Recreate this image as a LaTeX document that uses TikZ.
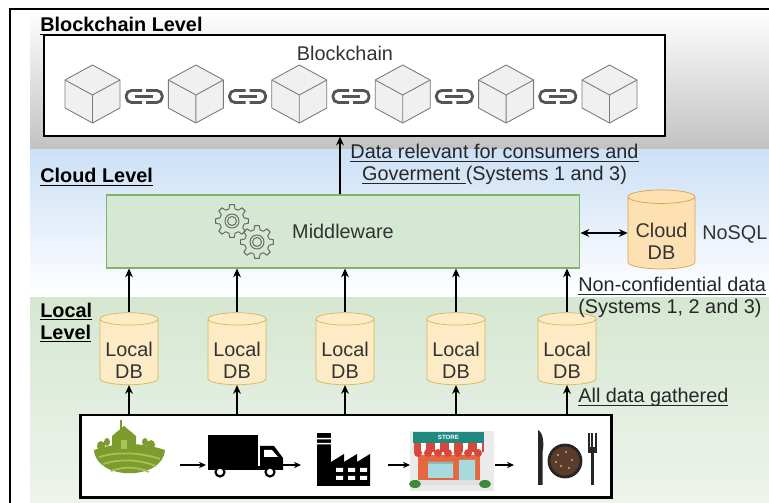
\documentclass[tikz,border=0pt]{standalone}
\usepackage{fontspec}
\setmainfont{Liberation Sans}
\usepackage{tikz}
\usetikzlibrary{positioning,shapes.geometric,arrows.meta}

\definecolor{txt}{HTML}{333333}
\definecolor{mwfill}{HTML}{D5E8D4}
\definecolor{mwline}{HTML}{82B366}
\definecolor{dbfill}{HTML}{FDEBC6}
\definecolor{dbline}{HTML}{D6B656}
\definecolor{cloudfill}{HTML}{FDE1B2}
\definecolor{cloudline}{HTML}{D9A24A}
\definecolor{cloudtop}{HTML}{CCE0F6}
\definecolor{localtop}{HTML}{D5E7D1}
\definecolor{localbot}{HTML}{EEF4EC}
\definecolor{cubefill}{HTML}{F0F0F0}
\definecolor{cubeline}{HTML}{7A7A7A}
\definecolor{linkgray}{HTML}{555555}
\definecolor{geargray}{HTML}{666666}
\definecolor{farmgreen}{HTML}{7E9B2E}
\definecolor{farmlight}{HTML}{A9C257}
\definecolor{storeteal}{HTML}{1F8B80}
\definecolor{storered}{HTML}{D9473A}
\definecolor{storewall}{HTML}{E4683F}
\definecolor{storeglass}{HTML}{A6DADF}
\definecolor{storebush}{HTML}{3F8A3A}
\definecolor{platebrown}{HTML}{5B3B2B}

% underline at a fixed depth, also under descenders
\newcommand{\uln}[1]{\setbox0=\hbox{#1}\rlap{\rule[-1.8pt]{\wd0}{0.55pt}}\box0}

\begin{document}
\begin{tikzpicture}[x=0.02cm, y=-0.02cm, >={Stealth[length=5pt,width=4.4pt]},
  every node/.style={font=\fontsize{11.3}{12.5}\selectfont, text=txt},
  level/.style={font=\fontsize{11.3}{12.5}\selectfont\bfseries, text=black, inner sep=0pt},
  note/.style={text=black!85, inner sep=0pt},
  flow/.style={->, line width=0.8pt},
  localdb/.style={cylinder, shape border rotate=90, aspect=0.26, draw=dbline, fill=dbfill,
    minimum width=1.16cm, minimum height=1.44cm, inner sep=0pt, align=center,
    execute at begin node={\rule{0pt}{30pt}}},
  cube/.style={draw=cubeline, fill=cubefill, line width=0.5pt, line join=round},
  link/.style={draw=linkgray, line width=1.6pt, rounded corners=3pt},
  gear/.style={draw=geargray, line width=0.55pt, line join=round},
  step arrow/.style={-{Stealth[length=4pt,width=3.6pt]}, line width=0.6pt}]
\clip (0,0) rectangle (769,503);

% level bands and frame
\shade[top color=white, bottom color=black!24] (30,10) rectangle (769,150);
\shade[top color=cloudtop, bottom color=white] (30,150) rectangle (769,298);
\shade[top color=localtop, bottom color=localbot] (30,298) rectangle (769,503);
\draw[line width=1.1pt] (10,503) -- (10,9) -- (769,9);

\node[level, anchor=base west] (blevel) at (40,32) {\uln{Blockchain Level}};
\node[level, anchor=base west] (clevel) at (40,183) {\uln{Cloud Level}};
\node[level, anchor=north west, align=left] (llevel) at (40,302.5) {\uln{Local}\\\uln{Level}};

% blockchain
\node[draw, fill=white, line width=0.7pt, minimum width=12.42cm, minimum height=2.02cm] (chain) at (354.5,85.5) {};
\node[anchor=base] (chaintitle) at (345,61) {Blockchain};
\foreach \i in {0,...,5} {
  \pgfmathsetmacro\cx{92.5+103.4*\i}
  \filldraw[cube] (\cx,65) -- (\cx+27.5,80) -- (\cx+27.5,108) -- (\cx,123) -- (\cx-27.5,108) -- (\cx-27.5,80) -- cycle;
  \draw[cube] (\cx-27.5,80) -- (\cx,95) -- (\cx+27.5,80) (\cx,95) -- (\cx,123);
}
\foreach \i in {0,...,4} {
  \pgfmathsetmacro\lx{144.2+103.4*\i}
  \draw[link] (\lx-2,90.5) -- (\lx-18,90.5) -- (\lx-18,102.5) -- (\lx-2,102.5);
  \draw[link] (\lx+2,90.5) -- (\lx+18,90.5) -- (\lx+18,102.5) -- (\lx+2,102.5);
  \draw[linkgray, line width=1.6pt] (\lx-9,96.5) -- (\lx+9,96.5);
}

% cloud
\node[draw=mwline, fill=mwfill, line width=0.6pt, minimum width=9.48cm, minimum height=1.46cm] (mw) at (343,231.5) {Middleware};
\foreach \gx/\gy in {232/221, 257/242} {
  \begin{scope}[shift={(\gx,\gy)}]
    \draw[gear] (-14:12.5) \foreach \a in {0,45,...,315} { -- (\a-14:12.5) -- (\a-8:16.5) -- (\a+8:16.5) -- (\a+14:12.5) } -- cycle;
    \draw[gear] (0,0) circle (7) (0,0) circle (4.5);
  \end{scope}
}
\node[localdb, fill=cloudfill, draw=cloudline, minimum width=1.34cm, minimum height=1.58cm] (cloud) at (661.5,233) {Cloud\\DB};
\node[anchor=base west, inner sep=0pt] (nosql) at (702,240) {NoSQL};
\draw[<->, line width=0.8pt] (cloud.west -| mw.east) -- (cloud.west);

\draw[flow] (mw.north -| 340,0) -- (chain.south -| 340,0);
\node[note, anchor=north, align=center] (uplabel) at (494.5,144)
  {\uln{Data relevant for consumers and}\\\uln{Goverment\ }(Systems 1 and 3)};

% local databases
\foreach \n/\px in {1/129, 2/237, 3/345, 4/456, 5/567} {
  \node[localdb] (db\n) at (\px,352) {Local\\DB};
  \draw[flow] (db\n.north) -- (mw.south -| db\n.north);
}
\node[note, anchor=north west, align=left] (midlabel) at (578,277)
  {\uln{Non-confidential data}\\(Systems 1, 2 and 3)};

% supply chain
\node[draw, fill=white, line width=1.7pt, minimum width=10.64cm, minimum height=1.66cm] (supply) at (346,456.5) {};
\foreach \n in {1,...,5}
  \draw[flow] (supply.north -| db\n.south) -- (db\n.south);
\node[note, anchor=base west] (lowlabel) at (578,403) {\uln{All data gathered}};

% farm
\fill[farmgreen] (94,450) .. controls (96,481) and (163,481) .. (165,450) .. controls (140,442) and (118,442) .. cycle;
\draw[farmlight, line width=1pt] (99,457) .. controls (120,451) and (142,453) .. (160,459);
\draw[farmlight, line width=1pt] (103,464) .. controls (122,458) and (140,460) .. (156,466);
\draw[farmlight, line width=1pt] (111,471) .. controls (125,466) and (138,467) .. (149,472);
\fill[farmgreen] (112,449) -- (112,436) -- (124,426) -- (136,436) -- (136,449) -- cycle;
\fill[farmlight] (121,440) rectangle (127,449);
\draw[farmgreen, line width=1pt] (121,420) -- (121,430);
\fill[farmgreen] (101,446) ellipse (4 and 5) (107,442) ellipse (3 and 4) (151,445) ellipse (4 and 5) (145,442) ellipse (3 and 4);

% truck
\fill (208,435) rectangle (258,467);
\fill (260,446) -- (274,446) -- (283,458) -- (283,470) -- (260,470) -- cycle;
\fill[white] (264,450) -- (272,450) -- (278,457) -- (264,457) -- cycle;
\fill (208,466) rectangle (283,470);
\filldraw[fill=white, line width=1.2pt] (220,472) circle (4.5) (270,472) circle (4.5);

% factory
\fill (317,433) rectangle (331,486);
\fill[white] (317,438) rectangle (331,439.5) (317,443) rectangle (331,444.5);
\fill (331,486) -- (331,462) -- (344,454) -- (344,462) -- (357,454) -- (357,462) -- (370,454) -- (370,486) -- cycle;
\foreach \wx in {336,348,360}
  \fill[white] (\wx,468) rectangle ++(7,4) (\wx,476) rectangle ++(7,4);

% store
\fill[black!8] (410,431) rectangle (494,491);
\fill[storewall] (418,455) rectangle (480,481);
\fill[storeglass] (428,462) rectangle (453,478) (459,460) rectangle (475,481);
\fill[black!15!storeglass] (428,462) rectangle (453,464);
\fill[storered] (414,443) rectangle (484,452);
\foreach \sx in {421,435,449,463,477}
  \fill[white] (\sx,443) rectangle ++(5,9);
\foreach \sx in {418,428,...,478}
  \fill[storered] (\sx,453) circle (4);
\fill[storeteal] (413,432) rectangle (484,443);
\node[font=\fontsize{3.5}{4}\selectfont\bfseries, text=white, inner sep=0pt] (storesign) at (448.5,437.5) {STORE};
\fill[black!12!white] (416,480) rectangle (482,485);
\fill[storebush] (415,484) ellipse (6 and 4) (485,484) ellipse (6 and 4);

% meal
\fill[black!85] (538,430) .. controls (544,433) and (544,446) .. (542.5,452) -- (542.5,485) -- (538,485) -- cycle;
\filldraw[fill=platebrown, draw=black!85, line width=1.6pt] (565,461) circle (16);
\foreach \px/\py in {558/455, 566/452, 572/460, 561/466, 569/468, 556/462}
  \fill[brown!70!white] (\px,\py) circle (1.2);
\fill[black!85] (590.5,452) rectangle (594,485);
\fill[black!85] (587.5,447) rectangle (597,453);
\foreach \tx in {587.5,591.2,595}
  \fill[black!85] (\tx,433) rectangle ++(2,15);

% hand-over arrows between the stages
\coordinate (farm-out) at (180,465);
\coordinate (truck-in) at (206,465);
\coordinate (truck-out) at (283,465);
\coordinate (factory-in) at (301,465);
\coordinate (factory-out) at (388,465);
\coordinate (store-in) at (410,465);
\coordinate (store-out) at (495,465);
\coordinate (meal-in) at (514,465);
\draw[step arrow] (farm-out) -- (truck-in);
\draw[step arrow] (truck-out) -- (factory-in);
\draw[step arrow] (factory-out) -- (store-in);
\draw[step arrow] (store-out) -- (meal-in);
\end{tikzpicture}
\end{document}
